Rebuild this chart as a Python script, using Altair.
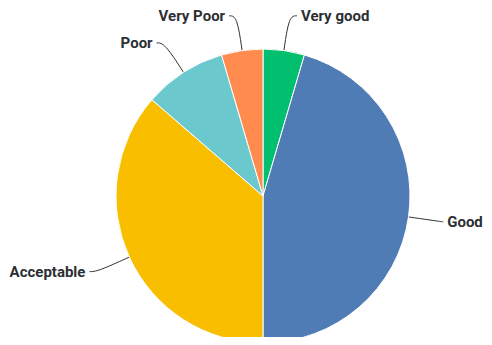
import math
import altair as alt
import pandas as pd

categories = ["Very good", "Good", "Acceptable", "Poor", "Very Poor"]
counts = [1, 10, 8, 2, 1]
colors = ["#00BF6F", "#507CB6", "#F9BE00", "#6BC8CD", "#FF8B4F"]

# layout (pixels)
W, H = 476, 329
CX, CY = 255, 188          # pie centre inside the plot area
R = 147
R_ELBOW = 182
TAIL = 8
GAP = 4
CHAR_W = 9.2               # rough width of one bold 15px character

total = sum(counts)
rows, lines, labels = [], [], []
cum = 0
for i, (c, v) in enumerate(zip(categories, counts)):
    rows.append({"cat": c, "value": v, "idx": i})
    mid = (cum + v / 2) / total * 2 * math.pi
    cum += v
    sx, sy = R * math.sin(mid), R * math.cos(mid)
    ex, ey = R_ELBOW * math.sin(mid), R_ELBOW * math.cos(mid)
    side = 1 if math.sin(mid) >= 0 else -1
    tx = ex + side * TAIL
    lx = tx + side * GAP
    if side > 0:
        # keep the label inside the chart: shorten the tail if needed
        lx = min(lx, (W - CX) - len(c) * CHAR_W)
        tx = max(ex, lx - GAP)
    for k, (px, py) in enumerate([(sx, sy), (ex, ey), (tx, ey)]):
        lines.append({"cat": c, "k": k, "x": px, "y": py})
    labels.append({"cat": c, "x": lx, "y": ey,
                   "align": "left" if side > 0 else "right"})

df = pd.DataFrame(rows)
ldf = pd.DataFrame(lines)
tdf = pd.DataFrame(labels)

xs = alt.Scale(domain=[-CX, W - CX], nice=False, zero=False)
ys = alt.Scale(domain=[CY - H, CY], nice=False, zero=False)

pie = alt.Chart(df).mark_arc(outerRadius=R, stroke="white", strokeWidth=1).encode(
    theta=alt.Theta("value:Q", stack=True),
    order=alt.Order("idx:Q"),
    color=alt.Color("cat:N", scale=alt.Scale(domain=categories, range=colors), legend=None),
    x=alt.datum(0, scale=xs, axis=None),
    y=alt.datum(0, scale=ys, axis=None),
)

leader = alt.Chart(ldf).mark_line(color="#333333", strokeWidth=1, interpolate="basis").encode(
    x=alt.X("x:Q", scale=xs, axis=None),
    y=alt.Y("y:Q", scale=ys, axis=None),
    detail="cat:N",
    order="k:Q",
)

def text_layer(align):
    return alt.Chart(tdf[tdf["align"] == align]).mark_text(
        align=align, baseline="middle", font="Roboto", fontSize=15,
        fontWeight="bold", color="#2b2f33"
    ).encode(
        x=alt.X("x:Q", scale=xs, axis=None),
        y=alt.Y("y:Q", scale=ys, axis=None),
        text="cat:N",
    )

chart = alt.layer(leader, pie, text_layer("left"), text_layer("right")).properties(
    width=W, height=H, padding=0, autosize=alt.AutoSizeParams(type="none")
).configure_view(stroke=None)

chart.save("out.html", embed_options={"renderer": "svg", "actions": False})
